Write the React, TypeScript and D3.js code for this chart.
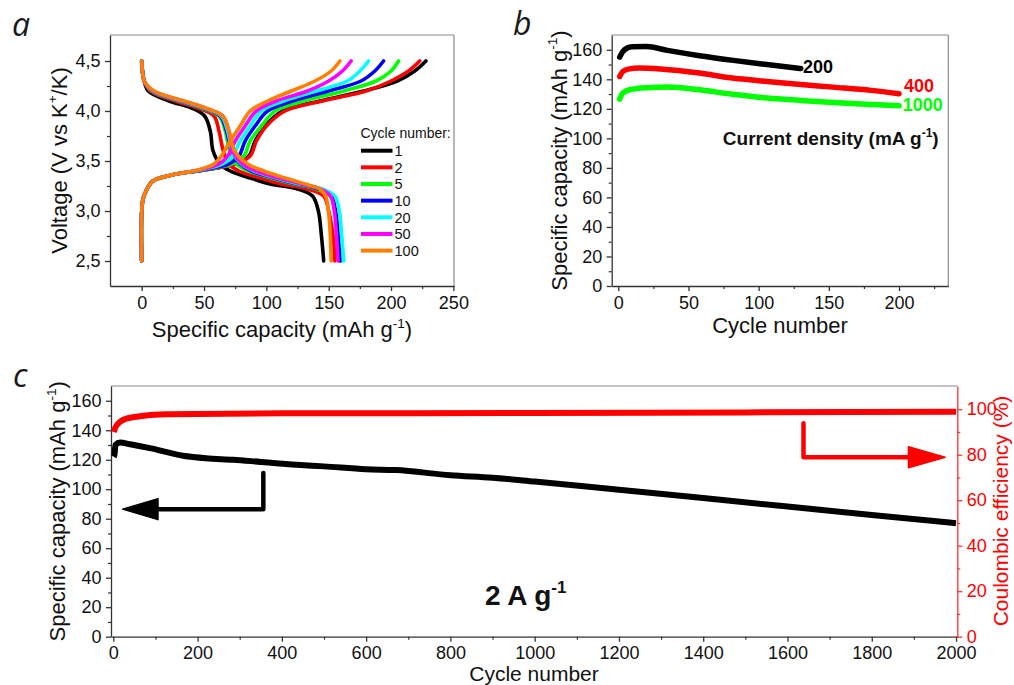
import React, { useEffect, useRef } from 'react'
import * as d3 from 'd3'

// ---------- panel a: charge / discharge profiles ----------
const cycleNames = ['1', '2', '5', '10', '20', '50', '100']
const cycleColors = ['#000000', '#ff0000', '#00ff00', '#0000ff', '#00ffff', '#ff00ff', '#ff8000']

// voltages at which the charge capacities are read
const chargeV = [2.5, 3.1, 3.2, 3.3, 3.36, 3.41, 3.47, 3.55, 3.7, 3.85, 4.0, 4.1, 4.2, 4.3, 4.4, 4.5]
const chargeCap1 = [0, 0.8, 3.5, 9, 24, 50, 74, 86, 91, 99, 113, 143, 178, 205, 219, 228]
const chargeCap2 = [0, 0.8, 3.5, 9, 24, 50, 75, 87, 92, 100, 115, 145, 180, 200, 214, 223]
const chargeCap5 = [0, 0.8, 3.5, 9, 24, 49, 72, 82, 87, 96, 107, 130, 162, 188, 200, 206]
const chargeCap10 = [0, 0.8, 3.5, 9, 24, 48, 70, 78, 83, 91, 101, 121, 150, 176, 187, 194]
const chargeCap20 = [0, 0.8, 3.5, 9, 24, 47, 65, 73, 79, 87, 96, 114, 140, 165, 175, 182]
const chargeCap50 = [0, 0.8, 3.5, 9, 24, 46, 62, 69, 75, 83, 92, 108, 133, 150, 161, 168]
const chargeCap100 = [0, 0.8, 3.5, 9, 24, 45, 58, 64, 71, 79, 87, 101, 120, 139, 152, 159]

// voltages at which the discharge capacities are read
const dischargeV = [4.5, 4.4, 4.3, 4.2, 4.1, 4.03, 3.95, 3.8, 3.6, 3.47, 3.4, 3.33, 3.27, 3.22, 3.15, 3.0, 2.75, 2.5]
const dischargeCap1 = [0, 0.6, 2, 5.3, 22, 40, 50.5, 55, 57.3, 62.8, 71, 87, 103, 125, 137, 141.7, 144.2, 146]
const dischargeCap2 = [0, 0.6, 2, 7, 27, 45, 58, 62, 65.5, 70, 78, 95, 112, 133, 146, 150, 153.5, 155]
const dischargeCap5 = [0, 0.6, 2, 8, 30, 48, 62, 67, 70.5, 76, 86, 104, 122, 140, 151, 155, 158, 160]
const dischargeCap10 = [0, 0.6, 2, 8.5, 31, 49, 63, 68, 72, 79, 88, 106, 124, 142, 152, 155.5, 157.5, 159]
const dischargeCap20 = [0, 0.6, 2, 9, 32, 50, 64, 69, 72.5, 80, 90, 108, 126, 145, 155, 158.5, 160.5, 162]
const dischargeCap50 = [0, 0.6, 2, 9.5, 33, 51, 65, 70, 73, 81, 92, 110, 128, 143, 151.5, 154.5, 156.3, 157.5]
const dischargeCap100 = [0, 0.6, 2, 10, 34, 51, 65, 70, 74.5, 85, 98, 115, 131, 143, 147.5, 149.8, 151.3, 152]

const aXTicks = [0, 50, 100, 150, 200, 250]
const aXMinor = [25, 75, 125, 175, 225]
const aYTicks = [2.5, 3.0, 3.5, 4.0, 4.5]
const aYMinor = [2.75, 3.25, 3.75, 4.25]

// ---------- panel b: rate cycling ----------
const rateNames = ['200', '400', '1000']
const rateColors = ['#000000', '#ff0000', '#00ff00']
const cycles200 = [1, 3, 6, 10, 20, 35, 58, 82, 106, 130]
const cap200 = [155, 158.5, 161, 162, 162.2, 159.6, 156, 152.8, 150, 147.3]
const cycles400 = [1, 3, 7, 15, 30, 58, 80, 106, 130, 153, 180, 200]
const cap400 = [141.9, 145, 146.9, 147.6, 147, 144.2, 141, 138.5, 136.5, 134.7, 132.5, 130.2]
const cycles1000 = [1, 3, 8, 20, 35, 58, 80, 106, 130, 153, 180, 200]
const cap1000 = [126.6, 130.5, 132.9, 134.3, 134.7, 132.9, 130, 127.3, 125.7, 124.3, 123, 122]

const bXTicks = [0, 50, 100, 150, 200]
const bXMinor = [25, 75, 125, 175, 225]
const capTicks = [0, 20, 40, 60, 80, 100, 120, 140, 160]
const capMinor = [10, 30, 50, 70, 90, 110, 130, 150]

// ---------- panel c: long cycling at 2 A/g ----------
const longCycles = [1, 3, 5, 16, 40, 87, 166, 220, 285, 350, 435, 500, 600, 670, 800, 900, 1000, 1200, 1400, 1600, 1800, 2000]
const longCap = [122, 124, 130, 131.7, 130.5, 127.9, 122.7, 121, 120, 118.5, 116.6, 115.5, 113.5, 113, 109.5, 107.8, 105.2, 99.6, 94, 88.3, 82.5, 77]
const ceCycles = [1, 5, 15, 30, 50, 130, 400, 1000, 1500, 2000]
const ceValues = [90, 92, 94.3, 95.8, 96.6, 97.8, 98.2, 98.3, 98.6, 98.9]

const cXTicks = [0, 200, 400, 600, 800, 1000, 1200, 1400, 1600, 1800, 2000]
const cXMinor = [100, 300, 500, 700, 900, 1100, 1300, 1500, 1700, 1900]
const ceTicks = [0, 20, 40, 60, 80, 100]
const ceMinor = [10, 30, 50, 70, 90]

const FONT = 'Liberation Sans, Arial, sans-serif'

function App() {
  const ref = useRef<SVGSVGElement>(null)

  useEffect(() => {
    const svg = d3.select(ref.current)
    svg.selectAll('*').remove()

    const A = { left: 110, right: 454, top: 35, bottom: 286 }
    const B = { left: 611.7, right: 948.3, top: 35, bottom: 286 }
    const C = { left: 111, right: 957.3, top: 386, bottom: 636.7 }

    const xa = d3.scaleLinear().domain([-25.4, 250.5]).range([A.left, A.right])
    const ya = d3.scaleLinear().domain([2.25, 4.76]).range([A.bottom, A.top])
    const xb = d3.scaleLinear().domain([-4.7, 235.1]).range([B.left, B.right])
    const yb = d3.scaleLinear().domain([0, 170]).range([B.bottom, B.top])
    const xc = d3.scaleLinear().domain([-5.5, 2003]).range([C.left, C.right])
    const yc = d3.scaleLinear().domain([0, 170]).range([C.bottom, C.top])
    const yce = d3.scaleLinear().domain([0, 110.2]).range([C.bottom, C.top])

    // axis helper: major ticks with labels + minor ticks without
    function axis(kind, scale, major, minor, pos, color, fmt) {
      const mk = kind === 'left' ? d3.axisLeft : kind === 'right' ? d3.axisRight : d3.axisBottom
      const tr = kind === 'bottom' ? `translate(0,${pos})` : `translate(${pos},0)`
      const gMinor = svg.append('g').attr('transform', tr)
        .call(mk(scale).tickValues(minor).tickSize(3).tickFormat(() => ''))
      gMinor.select('.domain').remove()
      gMinor.selectAll('.tick line').attr('stroke', color).attr('stroke-width', 1.2)
      const g = svg.append('g').attr('transform', tr)
        .call(mk(scale).tickValues(major).tickSize(5).tickSizeOuter(0).tickPadding(kind === 'bottom' ? 5 : 4.5).tickFormat(fmt))
      g.attr('font-size', 18).attr('font-family', FONT)
      g.select('.domain').attr('stroke', color).attr('stroke-width', 1.3)
      g.selectAll('.tick line').attr('stroke', color).attr('stroke-width', 1.3)
      g.selectAll('.tick text').attr('fill', color === '#ff3030' ? '#ff0000' : '#111')
      return g
    }

    function frameTopRight(P, right = true) {
      svg.append('line').attr('x1', P.left).attr('x2', P.right).attr('y1', P.top).attr('y2', P.top)
        .attr('stroke', '#8a8a8a').attr('stroke-width', 1.2)
      if (right) {
        svg.append('line').attr('x1', P.right).attr('x2', P.right).attr('y1', P.top).attr('y2', P.bottom)
          .attr('stroke', '#8a8a8a').attr('stroke-width', 1.2)
      }
    }

    function title(x, y, rotate, parts, color = '#111', size = 22) {
      const t = svg.append('text')
        .attr('transform', `translate(${x},${y})${rotate ? ' rotate(-90)' : ''}`)
        .attr('text-anchor', 'middle').attr('font-family', FONT).attr('font-size', size).attr('fill', color)
      parts.forEach(p => {
        const s = t.append('tspan').text(p.t)
        if (p.sup) s.attr('font-size', size * 0.62).attr('dy', -size * 0.42)
        if (p.down) s.attr('dy', size * 0.42)
      })
      return t
    }

    const numFmt = d => String(d)

    // ---------- panel a ----------
    frameTopRight(A)
    axis('bottom', xa, aXTicks, aXMinor, A.bottom, '#333', numFmt)
    axis('left', ya, aYTicks, aYMinor, A.left, '#333', d => d3.format('.1f')(d).replace('.', ','))

    const chargeCaps = [chargeCap1, chargeCap2, chargeCap5, chargeCap10, chargeCap20, chargeCap50, chargeCap100]
    const dischargeCaps = [dischargeCap1, dischargeCap2, dischargeCap5, dischargeCap10, dischargeCap20, dischargeCap50, dischargeCap100]

    const lineA = d3.line<[number, number]>()
      .x(d => xa(d[0])).y(d => ya(d[1]))
      .curve(d3.curveCatmullRom.alpha(0.5))

    cycleNames.forEach((name, i) => {
      const ch = chargeCaps[i].map((c, j) => [c, chargeV[j]] as [number, number])
      const dc = dischargeCaps[i].map((c, j) => [c, dischargeV[j]] as [number, number])
      ;[ch, dc].forEach(pts => {
        svg.append('path').datum(pts).attr('d', lineA)
          .attr('fill', 'none').attr('stroke', cycleColors[i])
          .attr('stroke-width', 3.6).attr('stroke-linecap', 'round').attr('stroke-linejoin', 'round')
      })
    })

    // legend
    svg.append('text').attr('x', 360.5).attr('y', 138).attr('font-family', FONT).attr('font-size', 14)
      .attr('fill', '#111').text('Cycle number:')
    cycleNames.forEach((name, i) => {
      const yy = 150.7 + i * 16.65
      svg.append('line').attr('x1', 361).attr('x2', 392.5).attr('y1', yy).attr('y2', yy)
        .attr('stroke', cycleColors[i]).attr('stroke-width', 4)
      svg.append('text').attr('x', 394.5).attr('y', yy).attr('dy', '0.36em')
        .attr('font-family', FONT).attr('font-size', 14.5).attr('fill', '#111').text(name)
    })

    title(282, 337, false, [{ t: 'Specific capacity (mAh g' }, { t: '-1', sup: true }, { t: ')', down: true }])
    title(66.5, 160.5, true, [{ t: 'Voltage (V vs K' }, { t: '+', sup: true }, { t: '/K)', down: true }])

    // ---------- panel b ----------
    frameTopRight(B)
    axis('bottom', xb, bXTicks, bXMinor, B.bottom, '#333', numFmt)
    axis('left', yb, capTicks, capMinor, B.left, '#333', numFmt)

    const rateCycles = [cycles200, cycles400, cycles1000]
    const rateCaps = [cap200, cap400, cap1000]
    const lineB = d3.line<[number, number]>()
      .x(d => xb(d[0])).y(d => yb(d[1]))
      .curve(d3.curveMonotoneX)
    rateNames.forEach((name, i) => {
      const pts = rateCycles[i].map((c, j) => [c, rateCaps[i][j]] as [number, number])
      svg.append('path').datum(pts).attr('d', lineB)
        .attr('fill', 'none').attr('stroke', rateColors[i])
        .attr('stroke-width', 5.5).attr('stroke-linecap', 'round')
    })
    const rateLabelPos = [[131.5, 144.6], [203.5, 131.5], [202.6, 118.2]]
    rateNames.forEach((name, i) => {
      svg.append('text').attr('x', xb(rateLabelPos[i][0])).attr('y', yb(rateLabelPos[i][1]))
        .attr('font-family', FONT).attr('font-weight', 'bold').attr('font-size', 18)
        .attr('fill', rateColors[i]).text(name)
    })
    const cd = svg.append('text').attr('x', xb(74.5)).attr('y', yb(95.6))
      .attr('font-family', FONT).attr('font-weight', 'bold').attr('font-size', 19).attr('fill', '#111')
    cd.append('tspan').text('Current density (mA g')
    cd.append('tspan').text('-1').attr('font-size', 12).attr('dy', -8)
    cd.append('tspan').text(')').attr('dy', 8)

    title(780, 333, false, [{ t: 'Cycle number' }])
    title(566.5, 160.5, true, [{ t: 'Specific capacity (mAh g' }, { t: '-1', sup: true }, { t: ')', down: true }])

    // ---------- panel c ----------
    frameTopRight(C, false)
    axis('bottom', xc, cXTicks, cXMinor, C.bottom, '#333', numFmt)
    axis('left', yc, capTicks, capMinor, C.left, '#333', numFmt)
    axis('right', yce, ceTicks, ceMinor, C.right, '#ff3030', numFmt)

    const lineC = d3.line<[number, number]>()
      .x(d => xc(d[0])).y(d => yc(d[1])).curve(d3.curveMonotoneX)
    const lineCE = d3.line<[number, number]>()
      .x(d => xc(d[0])).y(d => yce(d[1])).curve(d3.curveMonotoneX)

    svg.append('path').datum(ceCycles.map((c, j) => [c, ceValues[j]] as [number, number]))
      .attr('d', lineCE).attr('fill', 'none').attr('stroke', '#ff0000').attr('stroke-width', 6)
    svg.append('path').datum(longCycles.map((c, j) => [c, longCap[j]] as [number, number]))
      .attr('d', lineC).attr('fill', 'none').attr('stroke', '#000').attr('stroke-width', 6)

    // arrows pointing at the axes they belong to
    const capArrow = { x: 356, yTop: 111, yBottom: 86.5, headBase: 106, tip: 22 }
    svg.append('path')
      .attr('d', `M${xc(capArrow.x)},${yc(capArrow.yTop)} V${yc(capArrow.yBottom)} H${xc(capArrow.headBase)}`)
      .attr('fill', 'none').attr('stroke', '#000').attr('stroke-width', 4.5).attr('stroke-linejoin', 'round').attr('stroke-linecap', 'round')
    svg.append('path')
      .attr('d', `M${xc(capArrow.tip)},${yc(capArrow.yBottom)} L${xc(capArrow.headBase)},${yc(capArrow.yBottom) - 10.5} L${xc(capArrow.headBase)},${yc(capArrow.yBottom) + 10.5} Z`)
      .attr('fill', '#000').attr('stroke', '#000').attr('stroke-width', 1.5).attr('stroke-linejoin', 'round')

    const ceArrow = { x: 1638, yTop: 93.8, yBottom: 78.9, headBase: 1887, tip: 1974 }
    svg.append('path')
      .attr('d', `M${xc(ceArrow.x)},${yce(ceArrow.yTop)} V${yce(ceArrow.yBottom)} H${xc(ceArrow.headBase)}`)
      .attr('fill', 'none').attr('stroke', '#ff0000').attr('stroke-width', 4.5).attr('stroke-linejoin', 'round').attr('stroke-linecap', 'round')
    svg.append('path')
      .attr('d', `M${xc(ceArrow.tip)},${yce(ceArrow.yBottom)} L${xc(ceArrow.headBase)},${yce(ceArrow.yBottom) - 10.5} L${xc(ceArrow.headBase)},${yce(ceArrow.yBottom) + 10.5} Z`)
      .attr('fill', '#ff0000').attr('stroke', '#ff0000').attr('stroke-width', 1.5).attr('stroke-linejoin', 'round')

    const rate = svg.append('text').attr('x', xc(882)).attr('y', yc(21.5))
      .attr('font-family', FONT).attr('font-weight', 'bold').attr('font-size', 28).attr('fill', '#111')
    rate.append('tspan').text('2 A g')
    rate.append('tspan').text('-1').attr('font-size', 17).attr('dy', -12)

    title(534, 681, false, [{ t: 'Cycle number' }], '#111', 21)
    title(65, 511.3, true, [{ t: 'Specific capacity (mAh g' }, { t: '-1', sup: true }, { t: ')', down: true }])
    title(1008, 511, true, [{ t: 'Coulombic efficiency (%)' }], '#ff0000', 21)

    // panel letters
    const letters = [['a', 12, 36], ['b', 513, 35], ['c', 13, 387]]
    letters.forEach(([l, x, y]) => {
      svg.append('text').attr('x', x).attr('y', y).attr('font-family', 'Open Sans, sans-serif')
        .attr('font-style', 'italic').attr('font-size', 32).attr('fill', '#1a1a1a').text(l as string)
    })
  }, [])

  return (
    <svg ref={ref} width={1014} height={685}
      style={{ position: 'absolute', left: 0, top: 0, background: '#fff' }} />
  )
}

export default App
